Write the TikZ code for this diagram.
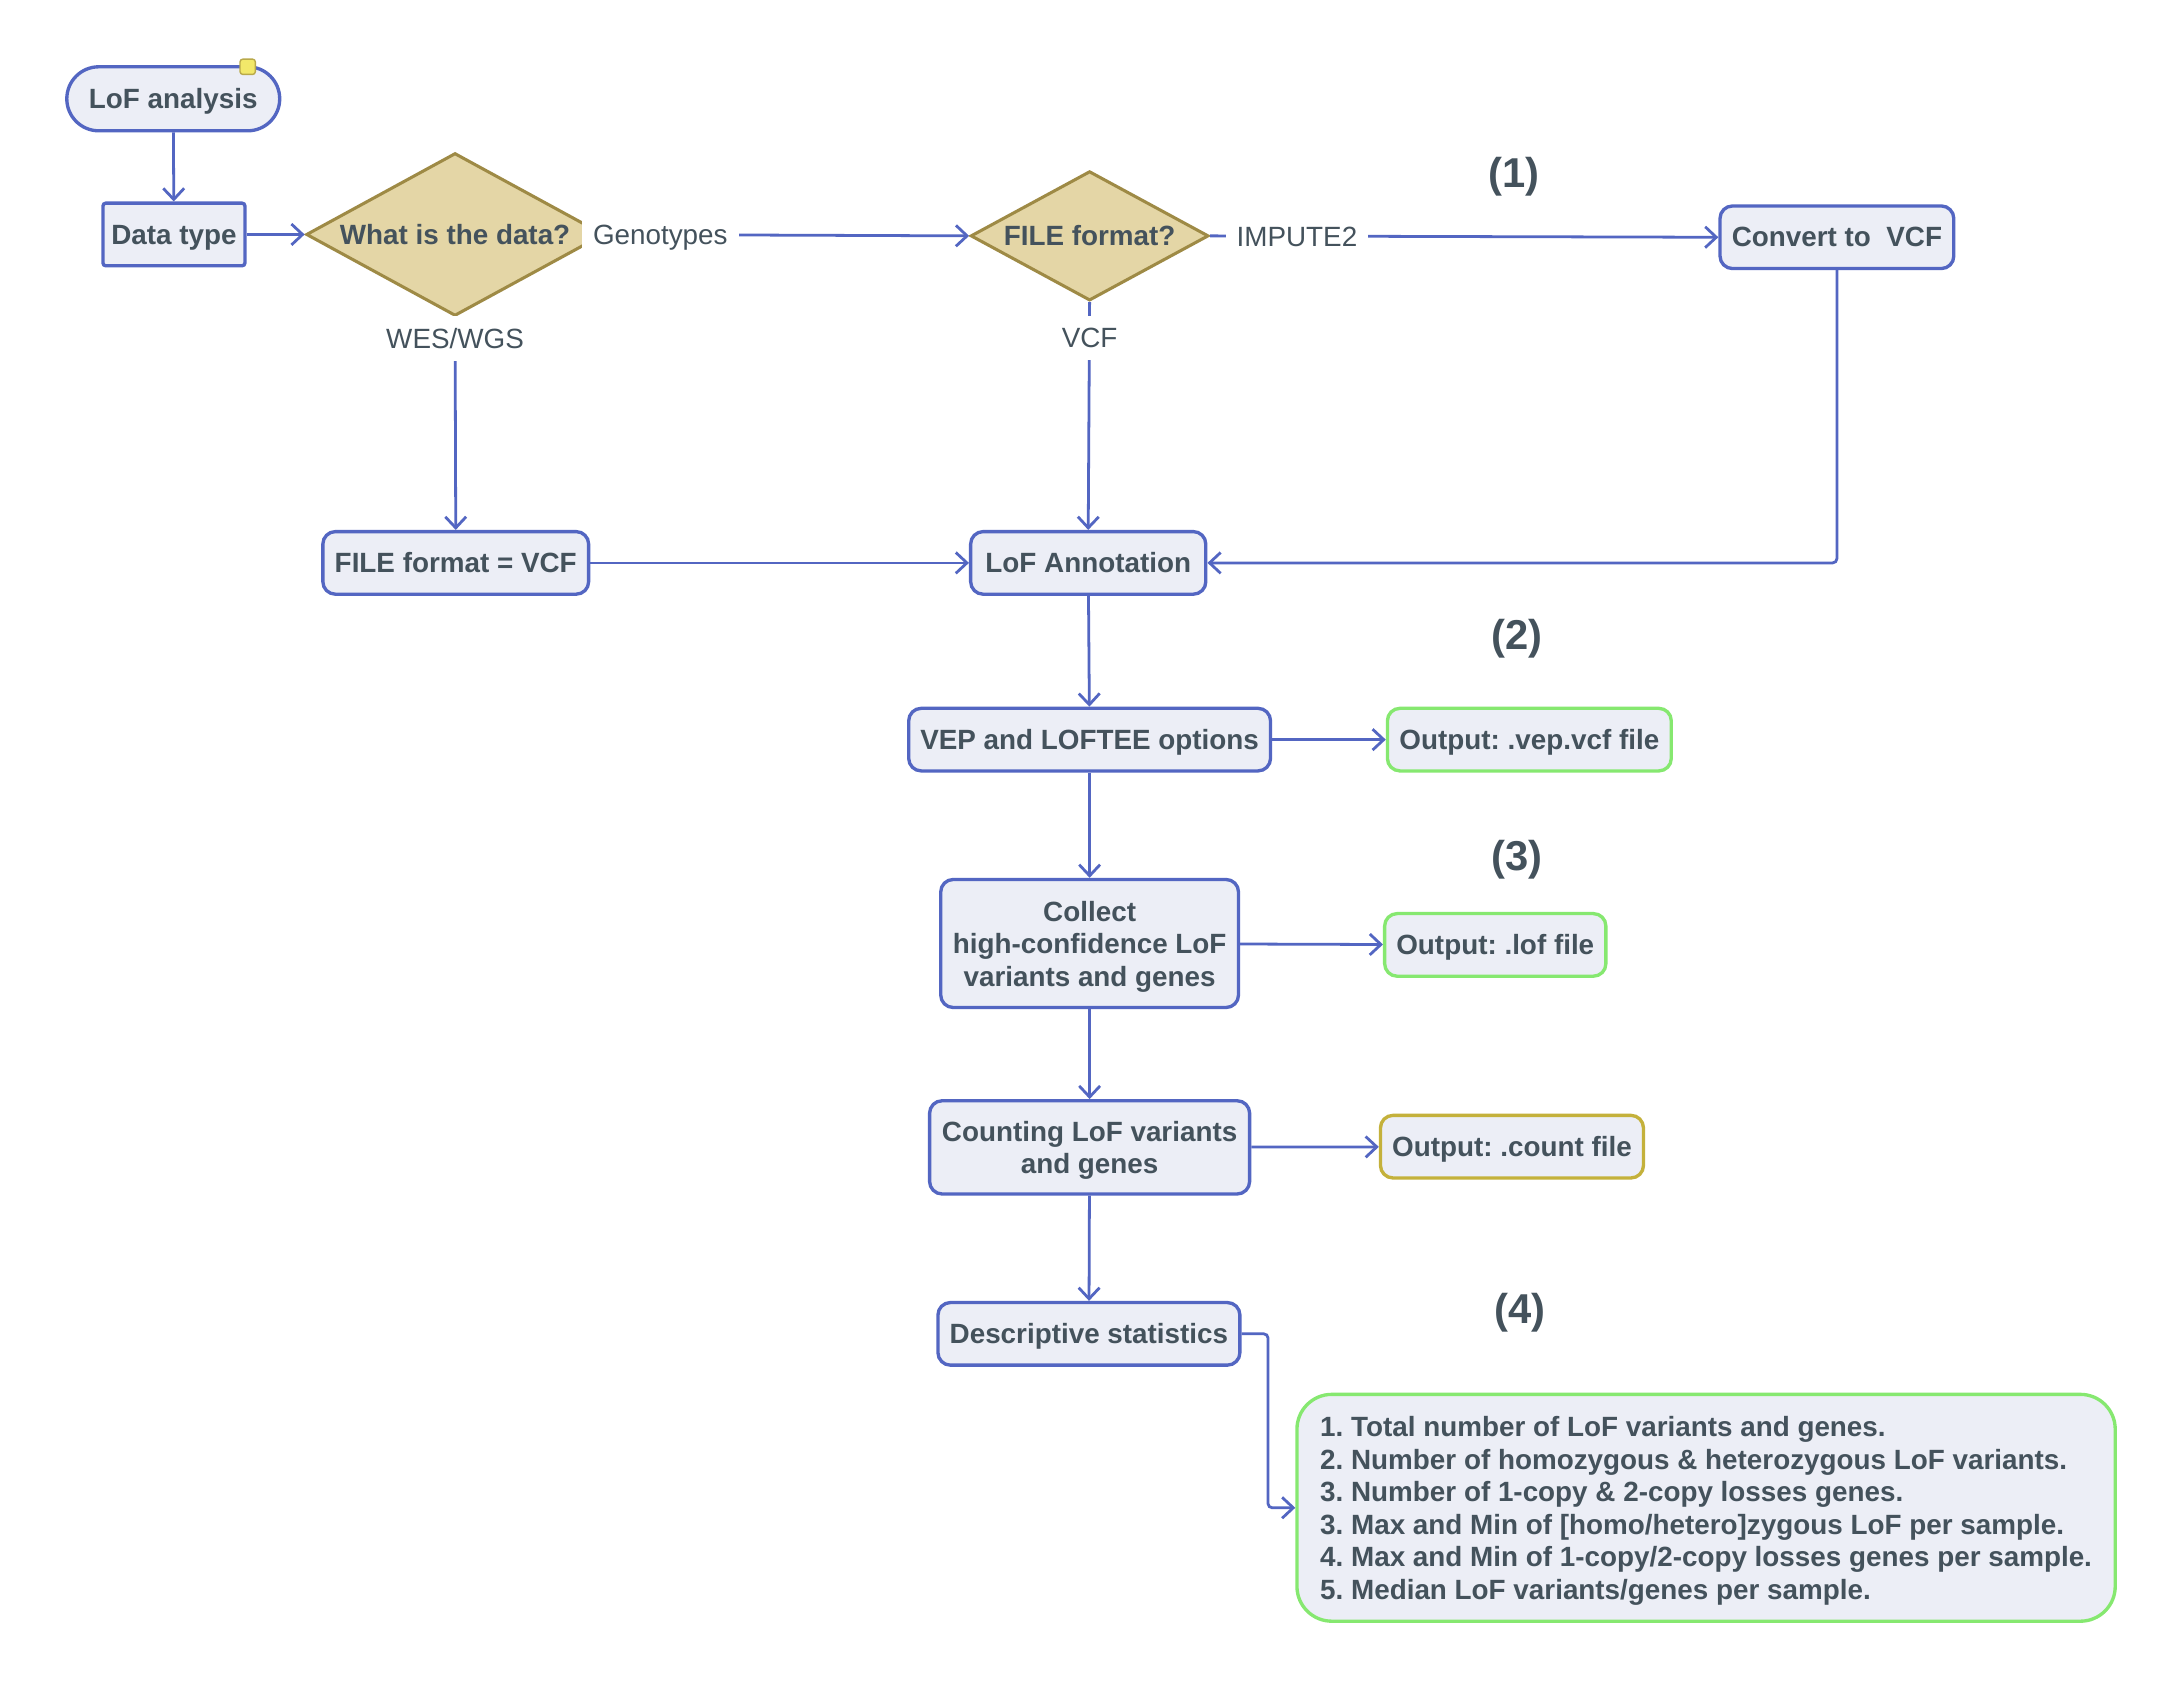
\documentclass[tikz,border=0pt]{standalone}
\usepackage{fontspec}
\setmainfont{Liberation Sans}
\usetikzlibrary{shapes.geometric, arrows.meta}
\definecolor{nblue}{HTML}{5366C2}
\definecolor{nfill}{HTML}{ECEEF6}
\definecolor{txt}{HTML}{44525C}
\definecolor{dfill}{HTML}{E4D6A6}
\definecolor{ddraw}{HTML}{9E8A45}
\definecolor{ngreen}{HTML}{86E870}
\definecolor{nolive}{HTML}{C4B13B}
\definecolor{myel}{HTML}{F2E86A}
\definecolor{myeld}{HTML}{B9A94A}
\frenchspacing
\tikzset{
  base/.style={draw=nblue, fill=nfill, line width=2.4pt, text=txt, font=\fontsize{20pt}{23.4pt}\selectfont\bfseries\frenchspacing, align=center, inner sep=0pt, minimum height=45pt, text depth=0pt},
  box/.style={base, rounded corners=9pt},
  term/.style={base, rounded corners=23pt, minimum height=46pt},
  sqbox/.style={base, rounded corners=2pt},
  gbox/.style={box, draw=ngreen},
  obox/.style={box, draw=nolive},
  statbox/.style={base, draw=ngreen, rounded corners=25pt, align=left, minimum width=588pt, minimum height=163pt},
  dia/.style={diamond, draw=ddraw, fill=dfill, line width=2.2pt, text=txt, font=\fontsize{20pt}{23.4pt}\selectfont\bfseries, inner sep=0pt, text depth=0pt},
  notemark/.style={draw=myeld, fill=myel, line width=1pt, rounded corners=2pt, minimum width=11pt, minimum height=11pt, inner sep=0pt},
  lbl/.style={fill=white, text=txt, font=\fontsize{20pt}{23.4pt}\selectfont, inner xsep=8pt, inner ysep=9pt, text depth=0pt},
  stepnum/.style={text=txt, font=\fontsize{30pt}{34pt}\selectfont\bfseries, text depth=0pt},
  conn/.style={draw=nblue, line width=2pt, -{Straight Barb[length=8pt,width=15pt]}}
}
\begin{document}
\begin{tikzpicture}[x=1pt,y=-1pt]
\useasboundingbox[fill=white] (0,0) rectangle (1568,1214);
% nodes
\node[term, minimum width=153pt] (start) at (124.5,71) {LoF analysis};
\node[notemark] (note) at (178,48) {};
\node[sqbox, minimum width=102pt] (dtype) at (125,168.5) {Data type};
\node[dia, aspect=1.83, minimum width=214pt, minimum height=117pt] (q1) at (327,168.5) {What is the data?};
\node[dia, aspect=1.84, minimum width=171pt, minimum height=93pt] (q2) at (783,169.5) {FILE format?};
\node[box, minimum width=168pt] (conv) at (1320,170.5) {Convert to\ \ VCF};
\node[box, minimum width=191pt] (fvcf) at (327.5,404.5) {FILE format = VCF};
\node[box, minimum width=169pt] (ann) at (782,404.5) {LoF Annotation};
\node[box, minimum width=260pt] (vep) at (783,531.5) {VEP and LOFTEE options};
\node[gbox, minimum width=204pt] (o1) at (1099,531.5) {Output: .vep.vcf file};
\node[box, minimum width=214pt, minimum height=92pt] (coll) at (783,678) {Collect\\high-confidence LoF\\variants and genes};
\node[gbox, minimum width=159pt] (o2) at (1074.5,679) {Output: .lof file};
\node[box, minimum width=230pt, minimum height=67pt] (count) at (783,824.5) {Counting LoF variants\\and genes};
\node[obox, minimum width=189pt] (o3) at (1086.5,824) {Output: .count file};
\node[box, minimum width=217pt] (desc) at (782.5,958.5) {Descriptive statistics};
\node[statbox] (stats) at (1226,1083.5) {1. Total number of LoF variants and genes.\\
2. Number of homozygous \& heterozygous LoF variants.\\
3. Number of 1-copy \& 2-copy losses genes.\\
3. Max and Min of [homo/hetero]zygous LoF per sample.\\
4. Max and Min of 1-copy/2-copy losses genes per sample.\\
5. Median LoF variants/genes per sample.};
\node[stepnum] (s1) at (1088,124) {(1)};
\node[stepnum] (s2) at (1090,456) {(2)};
\node[stepnum] (s3) at (1090,615) {(3)};
\node[stepnum] (s4) at (1092,940) {(4)};
% connectors
\draw[conn] (start) -- (dtype);
\draw[conn] (dtype) -- (q1);
\draw[conn] (q1.east) -- (q2.west);
\draw[conn] (q2.east) -- (conv.west);
\draw[conn] (q1.south) -- (fvcf.north);
\draw[conn] (q2.south) -- (ann.north);
\draw[conn] (fvcf) -- (ann);
\draw[conn, rounded corners=3pt] (conv.south) |- (ann.east);
\draw[conn] (ann) -- (vep);
\draw[conn] (vep) -- (o1);
\draw[conn] (vep) -- (coll);
\draw[conn] (coll) -- (o2);
\draw[conn] (coll) -- (count);
\draw[conn] (count) -- (o3);
\draw[conn] (count) -- (desc);
\draw[conn, rounded corners=3pt] (desc.east) -- ++(19,0) |- (stats.west);
% edge labels
\node[lbl] (lg) at (474.5,168.5) {Genotypes};
\node[lbl] (lw) at (327,243) {WES/WGS};
\node[lbl] (li) at (932,170) {IMPUTE2};
\node[lbl] (lv) at (783,243) {VCF};
\end{tikzpicture}
\end{document}
